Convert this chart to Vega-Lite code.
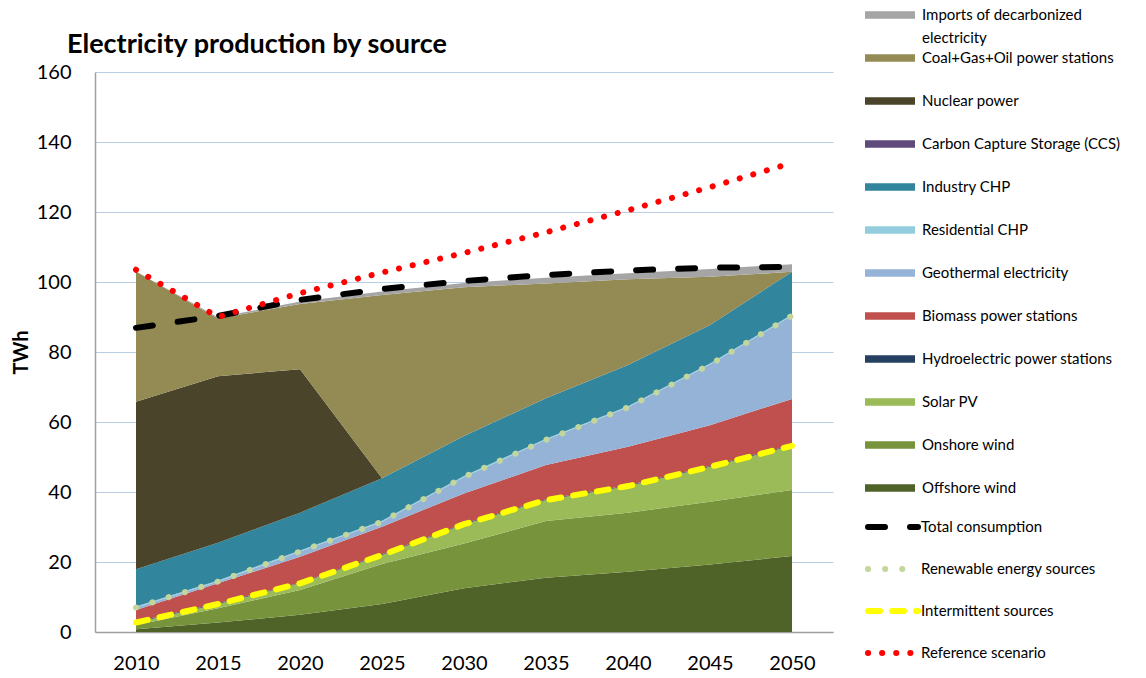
{
  "$schema": "https://vega.github.io/schema/vega-lite/v6.json",
  "width": 738,
  "height": 560,
  "autosize": {"type": "none"},
  "padding": {"left": 95, "top": 72, "right": 313, "bottom": 46},
  "title": {"text": "Electricity production by source", "anchor": "start", "frame": "group", "dx": -28, "dy": 75, "offset": 0, "baseline": "alphabetic", "font": "Lato", "fontSize": 27, "fontWeight": "bold", "color": "#000000"},
  "datasets": {
    "areas": [
      {"year": 2010, "source": "Offshore wind", "value": 0.8},
      {"year": 2015, "source": "Offshore wind", "value": 2.7},
      {"year": 2020, "source": "Offshore wind", "value": 4.9},
      {"year": 2025, "source": "Offshore wind", "value": 8.0},
      {"year": 2030, "source": "Offshore wind", "value": 12.5},
      {"year": 2035, "source": "Offshore wind", "value": 15.5},
      {"year": 2040, "source": "Offshore wind", "value": 17.2},
      {"year": 2045, "source": "Offshore wind", "value": 19.3},
      {"year": 2050, "source": "Offshore wind", "value": 21.7},
      {"year": 2010, "source": "Onshore wind", "value": 1.2},
      {"year": 2015, "source": "Onshore wind", "value": 4.1},
      {"year": 2020, "source": "Onshore wind", "value": 7.1},
      {"year": 2025, "source": "Onshore wind", "value": 11.4},
      {"year": 2030, "source": "Onshore wind", "value": 12.8},
      {"year": 2035, "source": "Onshore wind", "value": 16.2},
      {"year": 2040, "source": "Onshore wind", "value": 16.9},
      {"year": 2045, "source": "Onshore wind", "value": 17.9},
      {"year": 2050, "source": "Onshore wind", "value": 18.9},
      {"year": 2010, "source": "Solar PV", "value": 0.7},
      {"year": 2015, "source": "Solar PV", "value": 1.2},
      {"year": 2020, "source": "Solar PV", "value": 1.9},
      {"year": 2025, "source": "Solar PV", "value": 2.6},
      {"year": 2030, "source": "Solar PV", "value": 5.5},
      {"year": 2035, "source": "Solar PV", "value": 6.0},
      {"year": 2040, "source": "Solar PV", "value": 7.6},
      {"year": 2045, "source": "Solar PV", "value": 10.0},
      {"year": 2050, "source": "Solar PV", "value": 12.6},
      {"year": 2010, "source": "Hydroelectric power stations", "value": 0.2},
      {"year": 2015, "source": "Hydroelectric power stations", "value": 0.2},
      {"year": 2020, "source": "Hydroelectric power stations", "value": 0.2},
      {"year": 2025, "source": "Hydroelectric power stations", "value": 0.2},
      {"year": 2030, "source": "Hydroelectric power stations", "value": 0.2},
      {"year": 2035, "source": "Hydroelectric power stations", "value": 0.2},
      {"year": 2040, "source": "Hydroelectric power stations", "value": 0.2},
      {"year": 2045, "source": "Hydroelectric power stations", "value": 0.2},
      {"year": 2050, "source": "Hydroelectric power stations", "value": 0.2},
      {"year": 2010, "source": "Biomass power stations", "value": 3.4},
      {"year": 2015, "source": "Biomass power stations", "value": 5.7},
      {"year": 2020, "source": "Biomass power stations", "value": 7.4},
      {"year": 2025, "source": "Biomass power stations", "value": 7.9},
      {"year": 2030, "source": "Biomass power stations", "value": 8.6},
      {"year": 2035, "source": "Biomass power stations", "value": 9.8},
      {"year": 2040, "source": "Biomass power stations", "value": 11.0},
      {"year": 2045, "source": "Biomass power stations", "value": 11.7},
      {"year": 2050, "source": "Biomass power stations", "value": 13.2},
      {"year": 2010, "source": "Geothermal electricity", "value": 0.7},
      {"year": 2015, "source": "Geothermal electricity", "value": 0.5},
      {"year": 2020, "source": "Geothermal electricity", "value": 1.5},
      {"year": 2025, "source": "Geothermal electricity", "value": 1.4},
      {"year": 2030, "source": "Geothermal electricity", "value": 4.7},
      {"year": 2035, "source": "Geothermal electricity", "value": 7.2},
      {"year": 2040, "source": "Geothermal electricity", "value": 11.3},
      {"year": 2045, "source": "Geothermal electricity", "value": 17.3},
      {"year": 2050, "source": "Geothermal electricity", "value": 23.8},
      {"year": 2010, "source": "Residential CHP", "value": 0.3},
      {"year": 2015, "source": "Residential CHP", "value": 0.3},
      {"year": 2020, "source": "Residential CHP", "value": 0.3},
      {"year": 2025, "source": "Residential CHP", "value": 0.3},
      {"year": 2030, "source": "Residential CHP", "value": 0.3},
      {"year": 2035, "source": "Residential CHP", "value": 0.3},
      {"year": 2040, "source": "Residential CHP", "value": 0.3},
      {"year": 2045, "source": "Residential CHP", "value": 0.3},
      {"year": 2050, "source": "Residential CHP", "value": 0.3},
      {"year": 2010, "source": "Industry CHP", "value": 10.6},
      {"year": 2015, "source": "Industry CHP", "value": 10.8},
      {"year": 2020, "source": "Industry CHP", "value": 10.8},
      {"year": 2025, "source": "Industry CHP", "value": 12.1},
      {"year": 2030, "source": "Industry CHP", "value": 11.4},
      {"year": 2035, "source": "Industry CHP", "value": 11.6},
      {"year": 2040, "source": "Industry CHP", "value": 11.8},
      {"year": 2045, "source": "Industry CHP", "value": 11.0},
      {"year": 2050, "source": "Industry CHP", "value": 12.2},
      {"year": 2010, "source": "Carbon Capture Storage (CCS)", "value": 0},
      {"year": 2015, "source": "Carbon Capture Storage (CCS)", "value": 0},
      {"year": 2020, "source": "Carbon Capture Storage (CCS)", "value": 0},
      {"year": 2025, "source": "Carbon Capture Storage (CCS)", "value": 0},
      {"year": 2030, "source": "Carbon Capture Storage (CCS)", "value": 0},
      {"year": 2035, "source": "Carbon Capture Storage (CCS)", "value": 0},
      {"year": 2040, "source": "Carbon Capture Storage (CCS)", "value": 0},
      {"year": 2045, "source": "Carbon Capture Storage (CCS)", "value": 0},
      {"year": 2050, "source": "Carbon Capture Storage (CCS)", "value": 0},
      {"year": 2010, "source": "Nuclear power", "value": 47.9},
      {"year": 2015, "source": "Nuclear power", "value": 47.6},
      {"year": 2020, "source": "Nuclear power", "value": 41.0},
      {"year": 2025, "source": "Nuclear power", "value": 0},
      {"year": 2030, "source": "Nuclear power", "value": 0},
      {"year": 2035, "source": "Nuclear power", "value": 0},
      {"year": 2040, "source": "Nuclear power", "value": 0},
      {"year": 2045, "source": "Nuclear power", "value": 0},
      {"year": 2050, "source": "Nuclear power", "value": 0},
      {"year": 2010, "source": "Coal+Gas+Oil power stations", "value": 37.2},
      {"year": 2015, "source": "Coal+Gas+Oil power stations", "value": 16.5},
      {"year": 2020, "source": "Coal+Gas+Oil power stations", "value": 18.6},
      {"year": 2025, "source": "Coal+Gas+Oil power stations", "value": 52.4},
      {"year": 2030, "source": "Coal+Gas+Oil power stations", "value": 42.5},
      {"year": 2035, "source": "Coal+Gas+Oil power stations", "value": 32.8},
      {"year": 2040, "source": "Coal+Gas+Oil power stations", "value": 24.5},
      {"year": 2045, "source": "Coal+Gas+Oil power stations", "value": 13.8},
      {"year": 2050, "source": "Coal+Gas+Oil power stations", "value": 0},
      {"year": 2010, "source": "Imports of decarbonized electricity", "value": 0},
      {"year": 2015, "source": "Imports of decarbonized electricity", "value": 0.3},
      {"year": 2020, "source": "Imports of decarbonized electricity", "value": 0.7},
      {"year": 2025, "source": "Imports of decarbonized electricity", "value": 1.0},
      {"year": 2030, "source": "Imports of decarbonized electricity", "value": 1.2},
      {"year": 2035, "source": "Imports of decarbonized electricity", "value": 1.6},
      {"year": 2040, "source": "Imports of decarbonized electricity", "value": 1.7},
      {"year": 2045, "source": "Imports of decarbonized electricity", "value": 2.2},
      {"year": 2050, "source": "Imports of decarbonized electricity", "value": 2.2}
    ],
    "lines": [
      {"year": 2010, "series": "Total consumption", "value": 86.9},
      {"year": 2015, "series": "Total consumption", "value": 90.3},
      {"year": 2020, "series": "Total consumption", "value": 94.9},
      {"year": 2025, "series": "Total consumption", "value": 98.0},
      {"year": 2030, "series": "Total consumption", "value": 100.3},
      {"year": 2035, "series": "Total consumption", "value": 102.0},
      {"year": 2040, "series": "Total consumption", "value": 103.3},
      {"year": 2045, "series": "Total consumption", "value": 104.1},
      {"year": 2050, "series": "Total consumption", "value": 104.3},
      {"year": 2010, "series": "Renewable energy sources", "value": 7.0},
      {"year": 2015, "series": "Renewable energy sources", "value": 14.4},
      {"year": 2020, "series": "Renewable energy sources", "value": 23.0},
      {"year": 2025, "series": "Renewable energy sources", "value": 31.5},
      {"year": 2030, "series": "Renewable energy sources", "value": 44.3},
      {"year": 2035, "series": "Renewable energy sources", "value": 54.9},
      {"year": 2040, "series": "Renewable energy sources", "value": 64.2},
      {"year": 2045, "series": "Renewable energy sources", "value": 76.4},
      {"year": 2050, "series": "Renewable energy sources", "value": 90.4},
      {"year": 2010, "series": "Intermittent sources", "value": 2.7},
      {"year": 2015, "series": "Intermittent sources", "value": 8.0},
      {"year": 2020, "series": "Intermittent sources", "value": 13.9},
      {"year": 2025, "series": "Intermittent sources", "value": 22.0},
      {"year": 2030, "series": "Intermittent sources", "value": 30.8},
      {"year": 2035, "series": "Intermittent sources", "value": 37.7},
      {"year": 2040, "series": "Intermittent sources", "value": 41.7},
      {"year": 2045, "series": "Intermittent sources", "value": 47.2},
      {"year": 2050, "series": "Intermittent sources", "value": 53.2},
      {"year": 2010, "series": "Reference scenario", "value": 103.5},
      {"year": 2015, "series": "Reference scenario", "value": 90.0},
      {"year": 2020, "series": "Reference scenario", "value": 96.8},
      {"year": 2025, "series": "Reference scenario", "value": 102.7},
      {"year": 2030, "series": "Reference scenario", "value": 108.3},
      {"year": 2035, "series": "Reference scenario", "value": 114.2},
      {"year": 2040, "series": "Reference scenario", "value": 120.5},
      {"year": 2045, "series": "Reference scenario", "value": 127.1},
      {"year": 2050, "series": "Reference scenario", "value": 134.0}
    ]
  },
  "layer": [
    {
      "data": {"name": "areas"},
      "transform": [
        {"calculate": "indexof(['Offshore wind', 'Onshore wind', 'Solar PV', 'Hydroelectric power stations', 'Biomass power stations', 'Geothermal electricity', 'Residential CHP', 'Industry CHP', 'Carbon Capture Storage (CCS)', 'Nuclear power', 'Coal+Gas+Oil power stations', 'Imports of decarbonized electricity'], datum.source)", "as": "stackRank"}
      ],
      "mark": {"type": "area", "strokeWidth": 0},
      "encoding": {
        "x": {
          "field": "year", "type": "quantitative",
          "scale": {"domain": [2007.5, 2052.5], "nice": false, "zero": false},
          "axis": {"values": [2010, 2015, 2020, 2025, 2030, 2035, 2040, 2045, 2050], "format": "d", "title": null, "grid": false, "ticks": false, "tickSize": 0, "labelPadding": 21, "labelFont": "Lato", "labelFontSize": 20, "labelColor": "#000000", "domainColor": "#a0a0a0", "domainWidth": 1.5}
        },
        "y": {
          "field": "value", "type": "quantitative", "stack": "zero",
          "scale": {"domain": [0, 160], "nice": false},
          "axis": {"values": [0, 20, 40, 60, 80, 100, 120, 140, 160], "title": "TWh", "titleFont": "Lato", "titleFontSize": 20, "titleFontWeight": "bold", "titleColor": "#000000", "titlePadding": 5, "labelFont": "Lato", "labelFontSize": 20, "labelColor": "#000000", "labelPadding": 24, "ticks": false, "tickSize": 0, "grid": true, "gridColor": "#b9cde5", "gridWidth": 1, "domainColor": "#a0a0a0", "domainWidth": 1.5}
        },
        "order": {"field": "stackRank", "type": "quantitative", "sort": "ascending"},
        "fill": {
          "field": "source", "type": "nominal",
          "scale": {
            "domain": ["Imports of decarbonized electricity", "Coal+Gas+Oil power stations", "Nuclear power", "Carbon Capture Storage (CCS)", "Industry CHP", "Residential CHP", "Geothermal electricity", "Biomass power stations", "Hydroelectric power stations", "Solar PV", "Onshore wind", "Offshore wind"],
            "range": ["#a5a5a5", "#948a54", "#4a452a", "#604a7b", "#31859c", "#93cddd", "#95b3d7", "#c0504d", "#254061", "#9bbb59", "#77933c", "#4f6228"]
          },
          "legend": {
            "title": null, "orient": "none", "legendX": 785, "legendY": -67, "padding": 0,
            "symbolType": "M-2.5,3.25M-2.5,-0.375L2.5,-0.375L2.5,0.375L-2.5,0.375Z",
            "symbolSize": 400, "symbolStrokeWidth": 0,
            "labelFont": "Lato", "labelFontSize": 15, "labelColor": "#000000", "labelLimit": 300, "labelOffset": 22, "rowPadding": 0,
            "labelExpr": "datum.label === 'Imports of decarbonized electricity' ? ['Imports of decarbonized', 'electricity'] : datum.label",
            "encode": {"labels": {"update": {"lineHeight": {"value": 23}}}}
          }
        }
      }
    },
    {
      "data": {"name": "lines"},
      "mark": {"type": "line", "strokeCap": "round", "strokeWidth": 6},
      "encoding": {
        "x": {"field": "year", "type": "quantitative"},
        "y": {"field": "value", "type": "quantitative"},
        "stroke": {
          "field": "series", "type": "nominal",
          "scale": {"domain": ["Total consumption", "Renewable energy sources", "Intermittent sources", "Reference scenario"], "range": ["#000000", "#c3d69b", "#ffff00", "#ff0000"]},
          "legend": {
            "title": null, "orient": "none", "legendX": 785, "legendY": 442, "padding": 0,
            "symbolType": "M-2.5,2.6M-2.5,0L2.5,0",
            "symbolSize": 400, "symbolStrokeWidth": 6,
            "labelFont": "Lato", "labelFontSize": 15, "labelColor": "#000000", "labelLimit": 300, "labelOffset": 15, "rowPadding": 0,
            "encode": {"symbols": {"update": {"strokeCap": {"value": "round"}, "strokeJoin": {"value": "round"}}}}
          }
        },
        "strokeDash": {
          "field": "series", "type": "nominal",
          "scale": {"domain": ["Total consumption", "Renewable energy sources", "Intermittent sources", "Reference scenario"], "range": [[17, 25], [0.1, 17], [12, 12], [0.1, 14]]},
          "legend": {
            "title": null, "orient": "none", "legendX": 785, "legendY": 442, "padding": 0,
            "symbolType": "M-2.5,2.6M-2.5,0L2.5,0",
            "symbolSize": 400, "symbolStrokeWidth": 6,
            "labelFont": "Lato", "labelFontSize": 15, "labelColor": "#000000", "labelLimit": 300, "labelOffset": 15, "rowPadding": 0,
            "encode": {"symbols": {"update": {"strokeCap": {"value": "round"}, "strokeJoin": {"value": "round"}}}}
          }
        }
      }
    }
  ],
  "config": {
    "view": {"stroke": null},
    "font": "Lato"
  }
}
